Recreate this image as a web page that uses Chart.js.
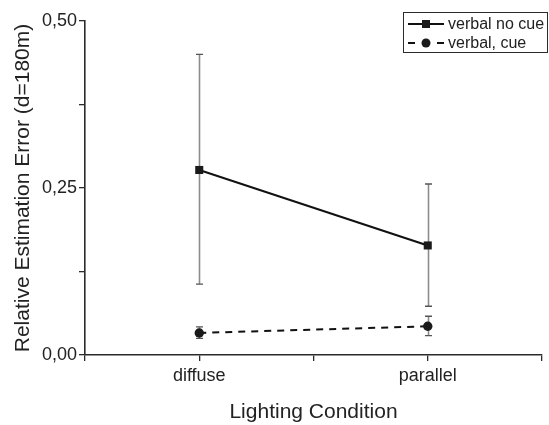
<!DOCTYPE html>
<html>
<head>
<meta charset="utf-8">
<script src="https://cdn.jsdelivr.net/npm/chart.js@4.4.0/dist/chart.umd.min.js"></script>
<style>
  html, body { margin: 0; padding: 0; background: #fff; }
</style>
</head>
<body>
<canvas id="chart" width="549" height="425"></canvas>
<script>
// data
const categories = ["diffuse", "parallel"];
const seriesNames = ["verbal no cue", "verbal, cue"];
const noCueMean = [0.277, 0.164];
const noCueLow = [0.106, 0.073];
const noCueHigh = [0.450, 0.256];
const cueMean = [0.033, 0.043];
const cueLow = [0.025, 0.029];
const cueHigh = [0.042, 0.058];
const yTickLabels = [0, 0.25, 0.5];

const FONT = "'Liberation Sans', Arial, sans-serif";
const AXIS = "#2b2b2b";

function toPoints(vals) {
  return vals.map((v, i) => ({ x: i + 1, y: v }));
}

// error bars, drawn under the markers
const errorBars = {
  id: "errorBars",
  beforeDatasetsDraw(chart) {
    const ctx = chart.ctx;
    const xs = chart.scales.x, ys = chart.scales.y;
    const sets = [[noCueLow, noCueHigh], [cueLow, cueHigh]];
    ctx.save();
    sets.forEach(([lo, hi]) => {
      lo.forEach((l, i) => {
        const px = Math.round(xs.getPixelForValue(i + 1)) + 0.5;
        const yl = ys.getPixelForValue(l);
        const yh = ys.getPixelForValue(hi[i]);
        ctx.strokeStyle = "#8c8c8c";
        ctx.lineWidth = 1.6;
        ctx.beginPath();
        ctx.moveTo(px, yl);
        ctx.lineTo(px, yh);
        ctx.stroke();
        ctx.strokeStyle = "#555";
        ctx.lineWidth = 1.3;
        ctx.beginPath();
        ctx.moveTo(px - 3.5, yl); ctx.lineTo(px + 3.5, yl);
        ctx.moveTo(px - 3.5, yh); ctx.lineTo(px + 3.5, yh);
        ctx.stroke();
      });
    });
    ctx.restore();
  }
};

// boxed legend top right, like the original
const boxLegend = {
  id: "boxLegend",
  afterDraw(chart) {
    const ctx = chart.ctx;
    ctx.save();
    ctx.strokeStyle = AXIS;
    ctx.lineWidth = 1;
    ctx.strokeRect(403.5, 12.5, 144, 40);
    ctx.font = "16px " + FONT;
    ctx.textBaseline = "middle";
    const rows = [24, 43];
    // row 1: solid line + square
    ctx.strokeStyle = "#111";
    ctx.lineWidth = 2;
    ctx.beginPath();
    ctx.moveTo(408, rows[0]); ctx.lineTo(444, rows[0]);
    ctx.stroke();
    ctx.fillStyle = "#1a1a1a";
    ctx.fillRect(426 - 4, rows[0] - 4, 8, 8);
    // row 2: dashes + circle
    ctx.beginPath();
    ctx.moveTo(408, rows[1]); ctx.lineTo(415, rows[1]);
    ctx.moveTo(437, rows[1]); ctx.lineTo(444, rows[1]);
    ctx.stroke();
    ctx.beginPath();
    ctx.arc(426, rows[1], 4.5, 0, Math.PI * 2);
    ctx.fill();
    ctx.fillStyle = "#222";
    ctx.fillText(seriesNames[0], 448, rows[0] + 1);
    ctx.fillText(seriesNames[1], 448, rows[1] + 1);
    ctx.restore();
  }
};

const ctx = document.getElementById("chart").getContext("2d");
const myChart = new Chart(ctx, {
  type: "line",
  data: {
    datasets: [
      {
        label: seriesNames[0],
        data: toPoints(noCueMean),
        borderColor: "#111",
        backgroundColor: "#1a1a1a",
        borderWidth: 2,
        pointStyle: "rect",
        pointRadius: 5.7,
        pointBorderWidth: 0,
      },
      {
        label: seriesNames[1],
        data: toPoints(cueMean),
        borderColor: "#111",
        backgroundColor: "#1a1a1a",
        borderWidth: 2,
        borderDash: [7, 6],
        pointStyle: "circle",
        pointRadius: 4.7,
        pointBorderWidth: 0,
      },
    ],
  },
  options: {
    responsive: false,
    animation: false,
    devicePixelRatio: 1,
    layout: { padding: { top: 21, right: 7, left: 0, bottom: 0 } },
    plugins: {
      legend: { display: false },
      tooltip: { enabled: false },
    },
    scales: {
      x: {
        type: "linear",
        min: 0.5,
        max: 2.5,
        afterFit(scale) { scale.height = 70; },
        ticks: {
          stepSize: 0.5,
          autoSkip: false,
          maxRotation: 0,
          padding: 4,
          color: "#222",
          font: { family: FONT, size: 18 },
          callback: (v) => Number.isInteger(v) && categories[v - 1] ? categories[v - 1] : "",
        },
        grid: { drawOnChartArea: false, tickLength: 6, color: AXIS, lineWidth: 1.3 },
        border: { color: AXIS, width: 1.6 },
        title: {
          display: true,
          text: "Lighting Condition",
          color: "#222",
          font: { family: FONT, size: 21 },
          padding: { top: 0, bottom: 0 },
        },
      },
      y: {
        min: 0,
        max: 0.5,
        afterFit(scale) { scale.width = 85; },
        ticks: {
          stepSize: 0.125,
          autoSkip: false,
          padding: 2,
          color: "#222",
          font: { family: FONT, size: 18 },
          callback: (v) => yTickLabels.includes(v) ? v.toFixed(2).replace(".", ",") : "",
        },
        grid: { drawOnChartArea: false, tickLength: 6, color: AXIS, lineWidth: 1.3 },
        border: { color: AXIS, width: 1.6 },
        title: {
          display: true,
          text: "Relative Estimation Error (d=180m)",
          color: "#222",
          font: { family: FONT, size: 21 },
          padding: { top: 11, bottom: 0 },
        },
      },
    },
  },
  plugins: [errorBars, boxLegend],
});
</script>
</body>
</html>
